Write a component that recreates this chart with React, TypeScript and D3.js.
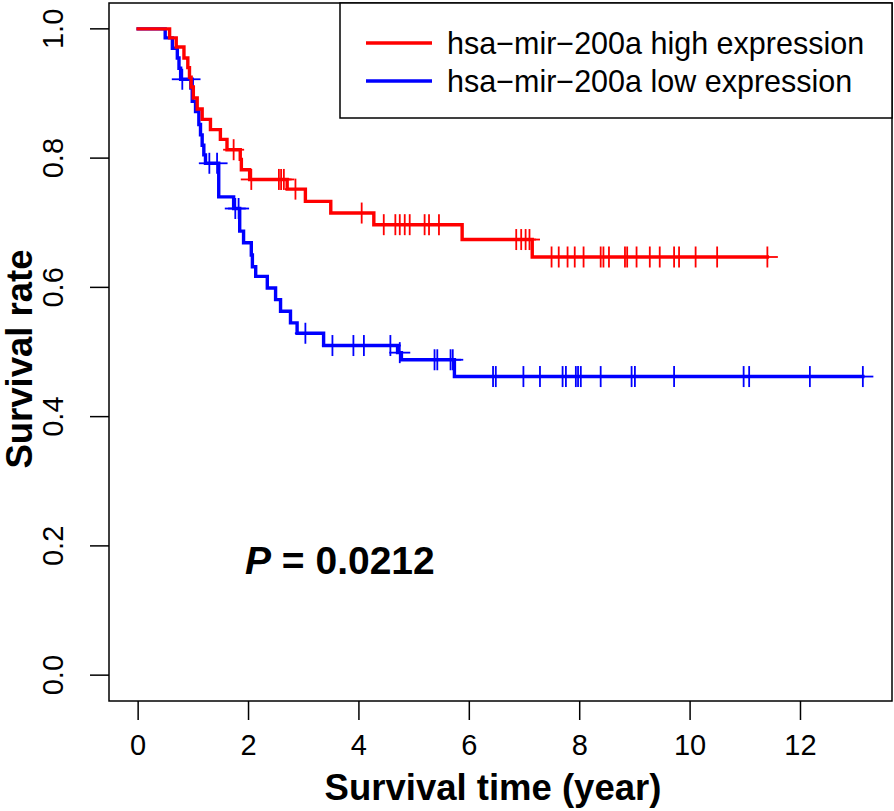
import React from "react";
import * as d3 from "d3";

const xTicks = [0, 2, 4, 6, 8, 10, 12];
const yTicks = [0.0, 0.2, 0.4, 0.6, 0.8, 1.0];

const highLabel = "hsa\u2212mir\u2212200a high expression";
const lowLabel = "hsa\u2212mir\u2212200a low expression";

const highEventTimes = [0.57, 0.69, 0.83, 0.90, 0.93, 0.96, 1.00, 1.07, 1.16, 1.31, 1.49, 1.61, 1.85, 1.87, 2.02, 2.70, 3.03, 3.49, 4.27, 5.87, 7.14];
const highSurv = [0.986, 0.972, 0.955, 0.940, 0.925, 0.910, 0.893, 0.876, 0.860, 0.844, 0.829, 0.813, 0.798, 0.782, 0.767, 0.752, 0.733, 0.715, 0.697, 0.674, 0.647];
const highCensor = [1.73, 2.05, 2.55, 2.59, 2.64, 2.85, 4.05, 4.45, 4.66, 4.74, 4.83, 4.92, 5.19, 5.27, 5.45, 6.85, 6.94, 7.02, 7.09, 7.49, 7.62, 7.78, 7.91, 8.07, 8.38, 8.43, 8.53, 8.82, 8.86, 9.03, 9.27, 9.45, 9.71, 9.80, 10.10, 10.49, 11.40];

const lowEventTimes = [0.49, 0.62, 0.71, 0.74, 0.77, 0.98, 1.04, 1.10, 1.13, 1.16, 1.19, 1.22, 1.46, 1.73, 1.84, 1.91, 2.05, 2.07, 2.13, 2.34, 2.49, 2.58, 2.76, 2.88, 3.36, 4.70, 4.77, 5.73];
const lowSurv = [0.986, 0.970, 0.955, 0.939, 0.922, 0.888, 0.872, 0.852, 0.836, 0.820, 0.805, 0.792, 0.740, 0.722, 0.687, 0.669, 0.650, 0.632, 0.617, 0.599, 0.581, 0.563, 0.545, 0.529, 0.510, 0.499, 0.488, 0.462];
const lowCensor = [0.80, 0.94, 1.29, 1.43, 1.76, 1.82, 3.03, 3.52, 3.90, 4.09, 4.57, 4.74, 5.37, 5.42, 5.66, 5.70, 6.43, 6.48, 6.98, 7.28, 7.69, 7.75, 7.93, 7.97, 8.02, 8.38, 8.94, 9.00, 9.71, 10.97, 11.07, 12.17, 13.13];

const W = 894;
const H = 811;
const box = { left: 109, right: 892, top: 3, bottom: 701 };
const FONT = "'Liberation Sans', Arial, Helvetica, sans-serif";

const x = d3.scaleLinear().domain([-0.528, 13.658]).range([box.left, box.right]);
const y = d3.scaleLinear().domain([-0.04, 1.04]).range([box.bottom, box.top]);

function survAt(times: number[], surv: number[], t: number) {
  let s = 1;
  for (let i = 0; i < times.length; i++) if (times[i] <= t) s = surv[i];
  return s;
}

function curvePath(times: number[], surv: number[], censor: number[]) {
  const end = Math.max(times[times.length - 1], censor[censor.length - 1]);
  const pts: [number, number][] = [[0, 1]];
  times.forEach((t, i) => pts.push([t, surv[i]]));
  pts.push([end, survAt(times, surv, end)]);
  const line = d3.line<[number, number]>().x((d) => x(d[0])).y((d) => y(d[1])).curve(d3.curveStepAfter);
  return line(pts) || "";
}

function Curve({ times, surv, censor, color }: { times: number[]; surv: number[]; censor: number[]; color: string }) {
  const arm = 10.5;
  return (
    <g>
      <path d={curvePath(times, surv, censor)} fill="none" stroke={color} strokeWidth={3.4} strokeLinejoin="miter" strokeLinecap="square" />
      {censor.map((t, i) => {
        const cx = x(t);
        const cy = y(survAt(times, surv, t));
        return (
          <g key={i} stroke={color} strokeWidth={1.8}>
            <line x1={cx - arm} x2={cx + arm} y1={cy} y2={cy} />
            <line x1={cx} x2={cx} y1={cy - arm} y2={cy + arm} />
          </g>
        );
      })}
    </g>
  );
}

export default function App() {
  return (
    <svg width={W} height={H} style={{ position: "absolute", left: 0, top: 0, background: "#fff" }} fontFamily={FONT}>
      <rect x={0} y={0} width={W} height={H} fill="#fff" />
      <rect x={box.left} y={box.top} width={box.right - box.left} height={box.bottom - box.top} fill="none" stroke="#000" strokeWidth={1.5} />
      {xTicks.map((t) => (
        <g key={t}>
          <line x1={x(t)} x2={x(t)} y1={box.bottom} y2={box.bottom + 19} stroke="#000" strokeWidth={1.5} />
          <text x={x(t)} y={755} textAnchor="middle" fontSize={29} fill="#000">{t}</text>
        </g>
      ))}
      {yTicks.map((v) => (
        <g key={v}>
          <line x1={box.left - 19} x2={box.left} y1={y(v)} y2={y(v)} stroke="#000" strokeWidth={1.5} />
          <text transform={`translate(63,${y(v)}) rotate(-90)`} textAnchor="middle" fontSize={29} fill="#000">{v.toFixed(1)}</text>
        </g>
      ))}
      <text x={493} y={800} textAnchor="middle" fontSize={36.5} fontWeight="bold" fill="#000">Survival time (year)</text>
      <text transform={`translate(32,359) rotate(-90)`} textAnchor="middle" fontSize={36.5} fontWeight="bold" fill="#000">Survival rate</text>

      <Curve times={lowEventTimes} surv={lowSurv} censor={lowCensor} color="#0000ff" />
      <Curve times={highEventTimes} surv={highSurv} censor={highCensor} color="#ff0000" />

      <rect x={340} y={box.top} width={box.right - 340} height={115} fill="#fff" stroke="#000" strokeWidth={1.5} />
      <line x1={366} x2={432} y1={43} y2={43} stroke="#ff0000" strokeWidth={3.4} />
      <line x1={366} x2={432} y1={81} y2={81} stroke="#0000ff" strokeWidth={3.4} />
      <text x={447} y={54} fontSize={30.5} fill="#000">{highLabel}</text>
      <text x={447} y={92} fontSize={30.5} fill="#000">{lowLabel}</text>

      <text x={245} y={574} fontSize={39} fontWeight="bold" fill="#000">
        <tspan fontStyle="italic">P</tspan>
        <tspan> = 0.0212</tspan>
      </text>
    </svg>
  );
}
